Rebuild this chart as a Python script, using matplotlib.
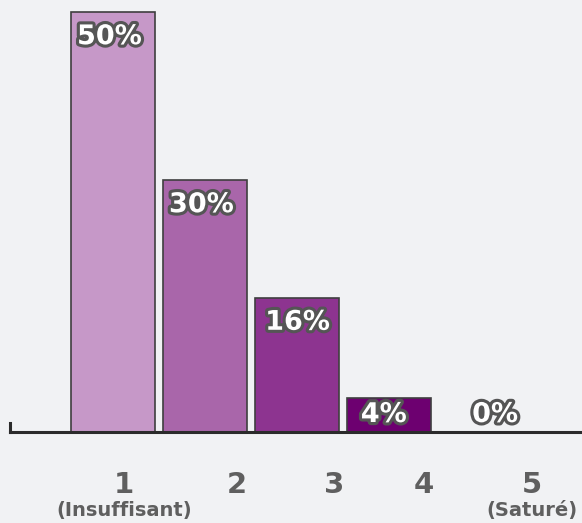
import matplotlib
matplotlib.use("Agg")
import matplotlib.pyplot as plt
import matplotlib.patheffects as pe

# Distribution of ratings (1 = Insuffisant ... 5 = Saturé)
categories = ["1", "2", "3", "4", "5"]
sublabels = ["(Insuffisant)", "", "", "", "(Saturé)"]
values = [50, 30, 16, 4, 0]
value_labels = ["50%", "30%", "16%", "4%", "0%"]
colors = ["#C698C8", "#A966AA", "#8D3490", "#6D0070", "#6D0070"]

BG = "#F1F2F4"
TEXT_GRAY = "#5F5F5F"
OUTLINE = "#555555"

plt.rcParams["font.family"] = ["DejaVu Sans"]

fig = plt.figure(figsize=(5.82, 5.23), dpi=100, facecolor=BG)
ax = fig.add_axes([10 / 582, 1 - 432 / 523, 572 / 582, 432 / 523])
ax.set_facecolor(BG)

xs = list(range(len(values)))
bars = ax.bar(xs, values, width=0.913, color=colors, edgecolor="#3f3f3f",
              linewidth=1.2, zorder=2)
# the empty bar has no visible outline
bars[-1].set_linewidth(0)

ax.set_xlim(-1.12, 5.098)
ax.set_ylim(0, 51.43)

for s in ("top", "right"):
    ax.spines[s].set_visible(False)
ax.spines["bottom"].set_linewidth(2.2)
ax.spines["bottom"].set_color("#2b2b2b")
ax.spines["left"].set_linewidth(2.2)
ax.spines["left"].set_color("#2b2b2b")
ax.spines["left"].set_bounds(0, 1.1)
ax.set_xticks([])
ax.set_yticks([])

# value labels inside the bars, white with a dark outline
label_dx = [0.065, 0.065, 0.11, 0.15, 0.36]
outline = [pe.withStroke(linewidth=4.5, foreground=OUTLINE)]
for x, v, lab, dx in zip(xs, values, value_labels, label_dx):
    ytop = max(v - 1.45, 3.57)
    ax.text(x - 0.4565 + dx, ytop, lab, ha="left", va="top",
            fontsize=19.5, fontweight="bold", color="white",
            path_effects=outline, zorder=3)

# category labels under the axis
tick_pos = [0.12, 1.35, 2.40, 3.38, 4.55]
for tx, cat, sub in zip(tick_pos, categories, sublabels):
    ax.annotate(cat, xy=(tx, 0), xycoords=("data", "axes fraction"),
                xytext=(0, -61), textcoords="offset pixels",
                ha="center", va="baseline", fontsize=21, fontweight="bold",
                color=TEXT_GRAY, annotation_clip=False)
    if sub:
        ax.annotate(sub, xy=(tx, 0), xycoords=("data", "axes fraction"),
                    xytext=(0, -84), textcoords="offset pixels",
                    ha="center", va="baseline", fontsize=14, fontweight="bold",
                    color=TEXT_GRAY, annotation_clip=False)

fig.savefig("out.png", dpi=100, facecolor=BG)
